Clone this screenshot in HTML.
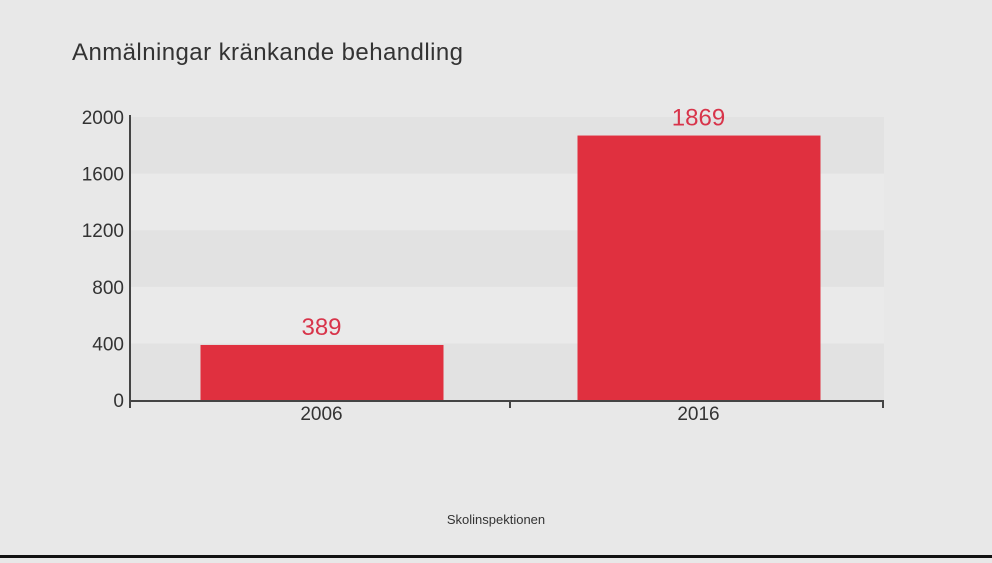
<!DOCTYPE html>
<html><head><meta charset="utf-8"><style>
body{margin:0;background:#e8e8e8;width:992px;height:558px;overflow:hidden;font-family:"Liberation Sans",sans-serif}
</style></head><body>
<svg width="992" height="558">
<rect width="992" height="558" fill="#e8e8e8"/>
<text x="72" y="60" font-size="24" fill="#333" textLength="391">Anmälningar kränkande behandling</text>
<g id="bands"></g><g id="yt"></g><g id="bars"></g>
<line x1="130" y1="115" x2="130" y2="401" stroke="#444" stroke-width="2"/>
<line x1="129" y1="401" x2="884" y2="401" stroke="#444" stroke-width="2"/>
<line x1="510" y1="401" x2="510" y2="408" stroke="#444" stroke-width="2"/>
<line x1="883" y1="401" x2="883" y2="408" stroke="#444" stroke-width="2"/>
<line x1="130" y1="401" x2="130" y2="408" stroke="#444" stroke-width="2"/>
<text x="496" y="524" font-size="13" fill="#333" text-anchor="middle">Skolinspektionen</text>
<rect x="0" y="555" width="992" height="3" fill="#111"/>
</svg>
<script>
const categories=["2006","2016"];
const values=[389,1869];
const ticks=[0,400,800,1200,1600,2000];
const ns="http://www.w3.org/2000/svg";
const y=v=>400-v*283/2000;
const x0=130,x1=884,bw=(x1-x0)/categories.length;
function mk(t,a,p){const e=document.createElementNS(ns,t);for(const k in a)e.setAttribute(k,a[k]);p.appendChild(e);return e;}
const bands=document.getElementById('bands'),yt=document.getElementById('yt'),bars=document.getElementById('bars');
for(let i=0;i<ticks.length-1;i++){
 const r=mk('rect',{x:131,y:y(ticks[i+1]),width:x1-131,height:y(ticks[i])-y(ticks[i+1]),fill:i%2==0?'#e2e2e2':'#eaeaea'},bands);
 
 
}
ticks.forEach(t=>{
 const tx=mk('text',{x:124,y:y(t)+7,'font-size':19,fill:'#333','text-anchor':'end'},yt);tx.textContent=t;
 
 
});
categories.forEach((c,i)=>{
 const cx=x0+bw*(i+0.5)+3;
 const r=mk('rect',{x:cx-121,y:y(values[i]),width:243,height:400-y(values[i]),fill:'#e0303f'},bars);
 
 
 const v=mk('text',{x:cx,y:y(values[i])-10,'font-size':24,fill:'#d8344a','text-anchor':'middle'},bars);v.textContent=values[i];
 
 
 const l=mk('text',{x:cx,y:420,'font-size':19,fill:'#333','text-anchor':'middle'},bars);l.textContent=c;
 
 
});
</script>
</body></html>
